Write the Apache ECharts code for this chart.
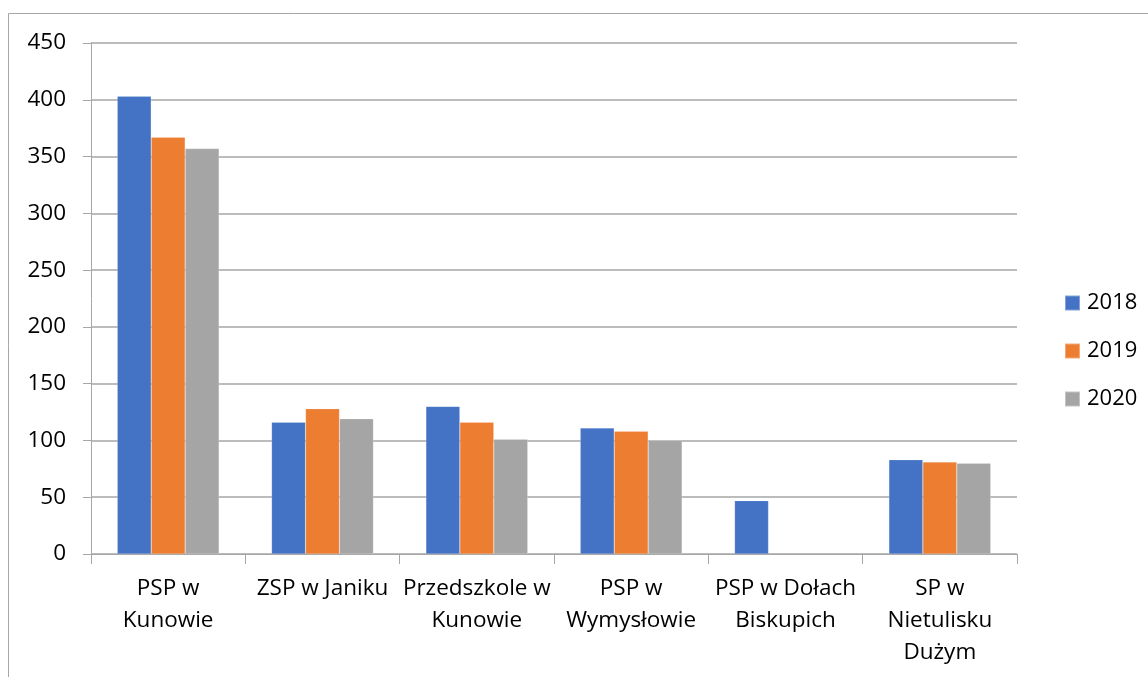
<!DOCTYPE html>
<html><head><meta charset="utf-8">
<script src="https://cdn.jsdelivr.net/npm/echarts@6/dist/echarts.min.js"></script>
<style>html,body{margin:0;padding:0;background:#fff}#c{width:1148px;height:677px}</style>
</head><body><div id="c"></div>
<script>
const categories = ["PSP w\nKunowie", "ZSP w Janiku", "Przedszkole w\nKunowie", "PSP w\nWymysłowie", "PSP w Dołach\nBiskupich", "SP w\nNietulisku\nDużym"];
const s2018 = [403, 116, 130, 111, 47, 83];
const s2019 = [367, 128, 116, 108, null, 81];
const s2020 = [357, 119, 101, 100, null, 80];
const yTicks = [0, 50, 100, 150, 200, 250, 300, 350, 400, 450];

const font = "'Open Sans', 'Noto Sans', sans-serif";
const chart = echarts.init(document.getElementById('c'), null, {renderer: 'canvas'});
const mk = (name, data, color) => ({
  name, type: 'bar', data, barGap: '0%', barCategoryGap: '34%',
  itemStyle: {color, borderColor: 'rgba(255,255,255,0.35)', borderWidth: 0.5},
  animation: false
});
chart.setOption({
  animation: false,
  graphic: [{type: 'rect', shape: {x: 8.5, y: 13.5, width: 1160, height: 700}, style: {fill: 'none', stroke: '#a6a6a6', lineWidth: 1}, silent: true, z: 0}],
  grid: {left: 91, right: 131, top: 43, bottom: 123, containLabel: false},
  legend: {
    orient: 'vertical', left: 1059, top: 286, itemGap: 24, itemWidth: 15, itemHeight: 15,
    icon: 'rect',
    textStyle: {fontFamily: font, fontSize: 22, lineHeight: 24, color: '#000', padding: [0, 0, 0, 2]},
    data: ['2018', '2019', '2020']
  },
  xAxis: {
    type: 'category', data: categories,
    axisLine: {lineStyle: {color: '#a6a6a6', width: 1}},
    axisTick: {show: true, length: 10, lineStyle: {color: '#a6a6a6'}},
    axisLabel: {fontFamily: font, fontSize: 22.5, color: '#000', lineHeight: 32, margin: 19, interval: 0}
  },
  yAxis: {
    type: 'value', min: yTicks[0], max: yTicks[yTicks.length - 1], interval: 50,
    axisLine: {show: true, lineStyle: {color: '#a6a6a6', width: 1}},
    axisTick: {show: true, length: 8, lineStyle: {color: '#a6a6a6'}},
    splitLine: {lineStyle: {color: '#a6a6a6', width: 1.5}},
    axisLabel: {fontFamily: font, fontSize: 22.5, color: '#000', margin: 25}
  },
  series: [mk('2018', s2018, '#4472c4'), mk('2019', s2019, '#ed7d31'), mk('2020', s2020, '#a5a5a5')]
});
</script></body></html>
